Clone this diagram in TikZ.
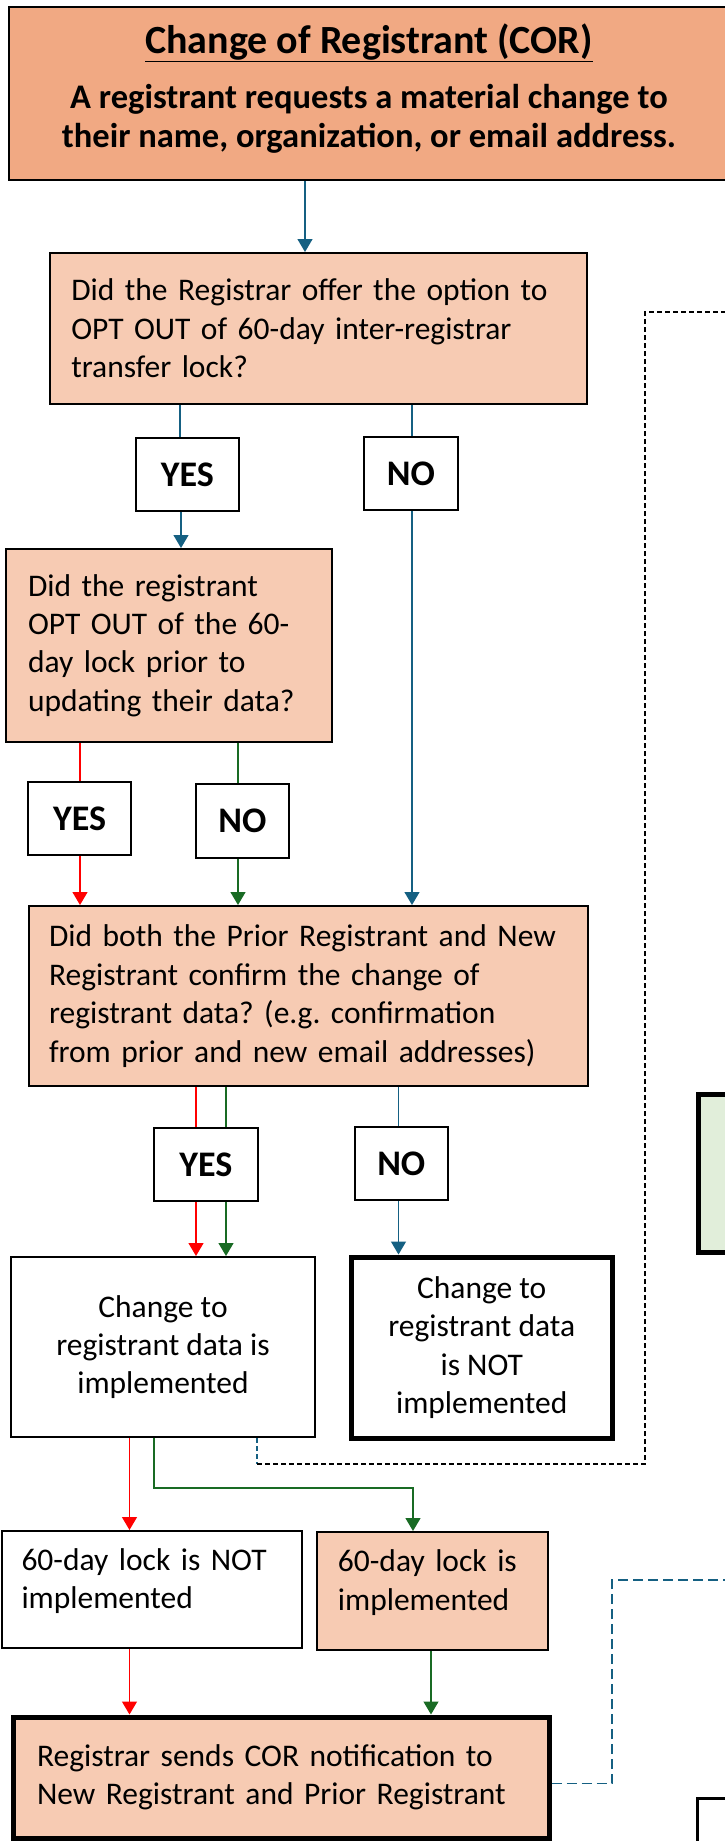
\documentclass[tikz,border=0pt]{standalone}
\usepackage{fontspec}
\setmainfont{Carlito}
\usetikzlibrary{arrows.meta}
\frenchspacing

\definecolor{corhead}{HTML}{F1A983}
\definecolor{corbox}{HTML}{F7CBB3}
\definecolor{corgreen}{HTML}{E1EEDA}
\definecolor{corblue}{HTML}{156082}
\definecolor{corgreenline}{HTML}{196B24}

\begin{document}
\begin{tikzpicture}[x=1pt, y=-1pt,
    every node/.style={inner sep=0pt, font=\fontsize{31.5}{38.4}\selectfont},
    box/.style={draw, line width=2pt, rectangle},
    question/.style={box, fill=corbox, align=left},
    result/.style={box, align=center},
    yesno/.style={box, minimum height=73pt, font=\bfseries\fontsize{36}{38.4}\selectfont},
    link/.style={line width=1.3pt},
    flow/.style={link, -{Triangle[width=15pt,length=13pt]}},
  ]
  \useasboundingbox (0,0) rectangle (725,1841);
  \clip (0,0) rectangle (725,1841);
  \fill[white] (0,0) rectangle (725,1841);

  % header
  \node[box, line width=2.5pt, fill=corhead, minimum width=720pt, minimum height=173pt,
        align=center, text depth=16pt, font=\bfseries\fontsize{34.5}{38.4}\selectfont] (cor) at (369,93.5)
    {{\fontsize{40}{38.4}\selectfont\underline{Change of Registrant (COR)}}\\[17pt]
     A registrant requests a material change to\\
     their name, organization, or email address.};

  % questions and answers
  \node[question, minimum width=537.5pt, minimum height=151pt, text width=494pt] (optoffer) at (318.25,328.5)
    {Did the Registrar offer the option to\\ OPT OUT of 60-day inter-registrar\\ transfer lock?};
  \node[yesno, minimum width=103.5pt] (yesoffer) at (187.25,474.5) {YES};
  \node[yesno, minimum width=94pt] (nooffer) at (411,473.5) {NO};

  \node[question, minimum width=326pt, minimum height=193pt, text width=282pt] (optout) at (169,645.5)
    {Did the registrant\\ OPT OUT of the 60-\\ day lock prior to\\ updating their data?};
  \node[yesno, minimum width=103pt] (yesout) at (79.5,818.5) {YES};
  \node[yesno, minimum width=93pt, minimum height=74pt] (noout) at (242.5,821) {NO};

  \node[question, minimum width=559pt, minimum height=180pt, text width=519pt] (confirm) at (308.5,996)
    {Did both the Prior Registrant and New\\ Registrant confirm the change of\\
     registrant data? (e.g. confirmation\\ from prior and new email addresses)};
  \node[yesno, minimum width=103.5pt] (yesconf) at (205.75,1164.5) {YES};
  \node[yesno, minimum width=93.4pt] (noconf) at (401.3,1163.5) {NO};

  % outcomes
  \node[result, minimum width=304pt, minimum height=180pt] (done) at (163,1347)
    {Change to\\ registrant data is\\ implemented};
  \node[result, line width=5pt, minimum width=261.5pt, minimum height=181pt] (notdone) at (481.75,1347.5)
    {Change to\\ registrant data\\ is NOT\\ implemented};
  \node[box, align=left, minimum width=300pt, minimum height=117pt, text width=260pt,
        text depth=60pt] (nolock) at (151.5,1589.5)
    {60-day lock is NOT\\ implemented};
  \node[question, minimum width=231.3pt, minimum height=118pt, text width=189pt,
        text depth=60pt] (lock) at (432.4,1591)
    {60-day lock is\\ implemented};
  \node[question, line width=5pt, minimum width=536pt, minimum height=121pt, text width=488pt] (notify) at (281,1777.5)
    {Registrar sends COR notification to\\ New Registrant and Prior Registrant};

  % boxes cut off at the right edge
  \node[box, line width=5pt, fill=corgreen, anchor=north west, minimum width=150pt, minimum height=158pt] (greenbox) at (696,1092) {};
  \node[box, line width=3pt, anchor=north west, minimum width=150pt, minimum height=150pt] (nextbox) at (696,1797) {};
  \coordinate (offtop) at (760,312);
  \coordinate (offlow) at (760,1580);

  % connectors
  \draw[flow, corblue] (cor.south -| 305,0) -- (optoffer.north -| 305,0);
  \draw[link, corblue] (optoffer.south -| 180,0) -- (yesoffer.north -| 180,0);
  \draw[link, corblue] (optoffer.south -| 412,0) -- (nooffer.north -| 412,0);
  \draw[flow, corblue] (yesoffer.south -| 181,0) -- (optout.north -| 181,0);
  \draw[flow, corblue] (nooffer.south -| 412,0) -- (confirm.north -| 412,0);

  \draw[link, red] (optout.south -| 80,0) -- (yesout.north -| 80,0);
  \draw[flow, red] (yesout.south -| 80,0) -- (confirm.north -| 80,0);
  \draw[link, corgreenline] (optout.south -| 238,0) -- (noout.north -| 238,0);
  \draw[flow, corgreenline] (noout.south -| 238,0) -- (confirm.north -| 238,0);

  \draw[link, red] (confirm.south -| 196,0) -- (yesconf.north -| 196,0);
  \draw[link, corgreenline] (confirm.south -| 226,0) -- (yesconf.north -| 226,0);
  \draw[flow, red] (yesconf.south -| 196,0) -- (done.north -| 196,0);
  \draw[flow, corgreenline] (yesconf.south -| 226,0) -- (done.north -| 226,0);
  \draw[link, corblue] (confirm.south -| 398.5,0) -- (noconf.north -| 398.5,0);
  \draw[flow, corblue] (noconf.south -| 398.5,0) -- (notdone.north -| 398.5,0);

  \draw[flow, red] (done.south -| 129.5,0) -- (nolock.north -| 129.5,0);
  \draw[flow, corgreenline] (done.south -| 154,0) -- ++(0,50) -| (lock.north -| 413,0);
  \draw[flow, red] (nolock.south -| 129.5,0) -- (notify.north -| 129.5,0);
  \draw[flow, corgreenline] (lock.south -| 431,0) -- (notify.north -| 431,0);

  % dashed links to the right
  \draw[link, corblue, dash pattern=on 5pt off 3pt] (done.south -| 257,0) -- ++(0,26) coordinate (dashbend);
  \draw[link, dash pattern=on 5pt off 3pt] (dashbend) -| (offtop -| 645,0) -- (offtop);
  \draw[link, corblue, dash pattern=on 10pt off 5pt] ([yshift=-6pt]notify.east) -| (offlow -| 612,0) -- (offlow);
\end{tikzpicture}
\end{document}
